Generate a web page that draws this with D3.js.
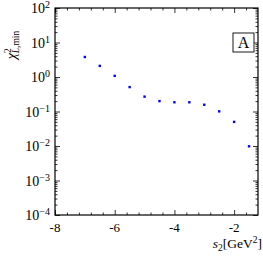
<!DOCTYPE html>
<html>
<head>
<meta charset="utf-8">
<script src="https://cdn.jsdelivr.net/npm/d3@7"></script>
<style>
  body { margin: 0; background: #fff; }
</style>
</head>
<body>
<div id="chart"></div>
<script>
// data
var s2 = [-7, -6.5, -6, -5.5, -5, -4.5, -4, -3.5, -3, -2.5, -2, -1.5];
var chi2 = [3.8, 2.1, 1.08, 0.51, 0.27, 0.2, 0.185, 0.185, 0.157, 0.101, 0.05, 0.0098];
var xTicks = [-8, -6, -4, -2];
var yExps = [2, 1, 0, -1, -2, -3, -4];

var svgWidth = 263, svgHeight = 256;
var margin = {top: 8, right: 5, bottom: 41, left: 55};
var width = svgWidth - margin.left - margin.right;
var height = svgHeight - margin.top - margin.bottom;
var serif = "'Liberation Serif', 'DejaVu Serif', serif";

var svg = d3.select("#chart").append("svg")
  .attr("width", svgWidth)
  .attr("height", svgHeight)
  .attr("font-family", serif);

var g = svg.append("g")
  .attr("transform", `translate(${margin.left}, ${margin.top})`);

var x = d3.scaleLinear().domain([-8, -1.2]).range([0, width]);
var y = d3.scaleLog().domain([1e-4, 1e2]).range([height, 0]);

// minor ticks
var xMinor = d3.range(-8, -1.2, 0.4).filter(v => Math.abs(v / 2 - Math.round(v / 2)) > 0.01);
var yMinor = [];
yExps.slice(1).forEach(function(e) {
  for (var k = 2; k <= 9; k++) yMinor.push(k * Math.pow(10, e));
});

function tickAxis(axisFn, scale, vals, len) {
  return axisFn(scale).tickValues(vals).tickSize(len).tickFormat("");
}

// major & minor ticks, inward, on all four sides
var sides = [
  [d3.axisBottom, x, xTicks, `translate(0,${height})`, -5, xMinor, -2.5],
  [d3.axisTop, x, xTicks, "translate(0,0)", -5, xMinor, -2.5],
  [d3.axisLeft, y, yExps.map(e => Math.pow(10, e)), "translate(0,0)", -5, yMinor, -2.5],
  [d3.axisRight, y, yExps.map(e => Math.pow(10, e)), `translate(${width},0)`, -5, yMinor, -2.5]
];
sides.forEach(function(s) {
  var a = g.append("g").attr("transform", s[3]).call(tickAxis(s[0], s[1], s[2], s[4]));
  a.select(".domain").remove();
  var b = g.append("g").attr("transform", s[3]).call(tickAxis(s[0], s[1], s[5], s[6]));
  b.select(".domain").remove();
});
g.selectAll(".tick line").attr("stroke", "#000").attr("stroke-width", 0.8);

// frame
g.append("rect")
  .attr("width", width).attr("height", height)
  .attr("fill", "none").attr("stroke", "#000").attr("stroke-width", 1.2);

// x tick labels
g.selectAll(".xlab").data(xTicks).enter().append("text")
  .attr("font-family", serif)
  .attr("x", d => x(d)).attr("y", height + 17)
  .attr("text-anchor", "middle").attr("font-size", 13)
  .text(d => d);

// y tick labels 10^n
var ylab = g.selectAll(".ylab").data(yExps).enter().append("text")
  .attr("font-family", serif)
  .attr("x", -5).attr("y", d => y(Math.pow(10, d)) + 5)
  .attr("text-anchor", "end").attr("font-size", 14);
ylab.append("tspan").text("10");
ylab.append("tspan").attr("dy", -5).attr("font-size", 10)
  .text(d => d < 0 ? "\u2212" + (-d) : d);

// points
g.selectAll("rect.pt").data(s2).enter().append("rect")
  .attr("class", "pt")
  .attr("x", (d, i) => x(d) - 1.2)
  .attr("y", (d, i) => y(chi2[i]) - 1.2)
  .attr("width", 2.4).attr("height", 2.4)
  .attr("fill", "#0000ff");

// label box "A"
g.append("rect")
  .attr("x", 178).attr("y", 25).attr("width", 21).attr("height", 19)
  .attr("fill", "#fff").attr("stroke", "#000").attr("stroke-width", 0.9);
g.append("text")
  .attr("font-family", serif)
  .attr("x", 188.5).attr("y", 40).attr("text-anchor", "middle")
  .attr("font-size", 16).text("A");

// axis titles
var xt = svg.append("text")
  .attr("x", 262).attr("y", 248).attr("text-anchor", "end").attr("font-size", 13.5);
xt.append("tspan").attr("font-style", "italic").text("s");
xt.append("tspan").attr("dy", 3).attr("font-size", 9.5).text("2");
xt.append("tspan").attr("dy", -3).text("[GeV");
xt.append("tspan").attr("dy", -5).attr("font-size", 9.5).text("2");
xt.append("tspan").attr("dy", 5).text("]");

var yt = svg.append("text")
  .attr("transform", "translate(16, 45) rotate(-90)")
  .attr("text-anchor", "middle").attr("font-size", 14);
yt.append("tspan").attr("font-style", "italic").text("\u03c7");
yt.append("tspan").attr("dy", -5).attr("font-size", 9.5).text("2");
yt.append("tspan").attr("dx", -5).attr("dy", 8).attr("font-size", 9.5)
  .html('<tspan font-style="italic">L</tspan>,min');
</script>
</body>
</html>
